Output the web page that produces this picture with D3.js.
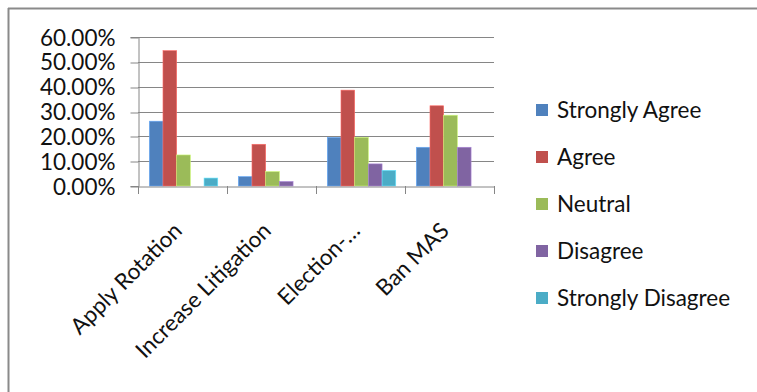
<!DOCTYPE html>
<html>
<head>
<meta charset="utf-8">
<script src="https://cdn.jsdelivr.net/npm/d3@7"></script>
<style>
  html, body { margin: 0; padding: 0; background: #fff; }
  svg { display: block; }
  text { font-family: Lato, "Open Sans", sans-serif; fill: #111; }
</style>
</head>
<body>
<svg id="chart" width="757" height="392"></svg>
<script>
// Survey responses per proposal (share of respondents)
const categories = ["Apply Rotation", "Increase Litigation", "Election-…", "Ban MAS"];
const seriesNames = ["Strongly Agree", "Agree", "Neutral", "Disagree", "Strongly Disagree"];
const stronglyAgree    = [0.261, 0.038, 0.196, 0.156];
const agree            = [0.545, 0.168, 0.386, 0.323];
const neutral          = [0.125, 0.058, 0.196, 0.285];
const disagree         = [0.000, 0.018, 0.089, 0.156];
const stronglyDisagree = [0.032, 0.000, 0.063, 0.000];
const seriesColors = ["#4F81BD", "#C0504D", "#9BBB59", "#8064A2", "#4BACC6"];
const yTicks = [0, 0.1, 0.2, 0.3, 0.4, 0.5, 0.6];

const seriesValues = [stronglyAgree, agree, neutral, disagree, stronglyDisagree];
const FONT_SIZE = 22.5;

const svg = d3.select("#chart");

// Outer chart frame (left and top edges)
svg.append("line").attr("x1", 8.5).attr("x2", 8.5).attr("y1", 8).attr("y2", 392)
  .attr("stroke", "#8a8a8a").attr("stroke-width", 2);
svg.append("line").attr("x1", 8).attr("x2", 757).attr("y1", 8.5).attr("y2", 8.5)
  .attr("stroke", "#8a8a8a").attr("stroke-width", 2);

const plot = { left: 138, right: 494, top: 37, bottom: 186 };

const x = d3.scaleBand().domain(categories).range([plot.left, plot.right]).paddingInner(0).paddingOuter(0);
const xs = d3.scaleBand().domain(seriesNames).range([0, x.bandwidth()])
  .paddingInner(0).paddingOuter(0.75).align(0.55);
const y = d3.scaleLinear().domain([0, 0.6]).range([plot.bottom, plot.top]);

// Horizontal gridlines
svg.append("g").selectAll("line").data(yTicks.filter(d => d > 0)).join("line")
  .attr("x1", plot.left).attr("x2", plot.right)
  .attr("y1", d => Math.round(y(d)) + 0.5).attr("y2", d => Math.round(y(d)) + 0.5)
  .attr("stroke", "#868686").attr("stroke-width", 1);

// Y axis
const yAxis = d3.axisLeft(y).tickValues(yTicks).tickSize(8).tickPadding(15)
  .tickFormat(d => (d * 100).toFixed(2) + "%");
const gy = svg.append("g").attr("transform", `translate(${plot.left + 0.5},0)`).call(yAxis);
gy.select(".domain").attr("stroke", "#868686");
gy.selectAll(".tick line").attr("stroke", "#868686")
  .attr("transform", function(d) { return `translate(0,${Math.round(y(d)) + 0.5 - y(d)})`; });
gy.selectAll(".tick text").attr("font-size", FONT_SIZE).attr("font-family", "Lato, sans-serif")
  .attr("fill", "#111").attr("dy", "0.36em");

// Bars
const groups = svg.append("g").selectAll("g").data(categories).join("g")
  .attr("transform", d => `translate(${x(d)},0)`);
groups.selectAll("rect")
  .data((c, ci) => seriesNames.map((s, si) => ({ s, si, v: seriesValues[si][ci] })))
  .join("rect")
  .filter(d => d.v > 0)
  .attr("x", d => xs(d.s))
  .attr("width", xs.bandwidth())
  .attr("y", d => y(d.v))
  .attr("height", d => y(0) - y(d.v))
  .attr("fill", d => seriesColors[d.si])
  .attr("stroke", d => d3.color(seriesColors[d.si]).brighter(0.8))
  .attr("stroke-width", 0.6);

// X axis
const xAxis = d3.axisBottom(x).tickSize(0).tickFormat("");
const gx = svg.append("g").attr("transform", `translate(0,${plot.bottom + 0.5})`).call(xAxis);
gx.select(".domain").attr("stroke", "#868686");
const boundaries = categories.map(c => x(c)).concat([plot.right]);
svg.append("g").selectAll("line").data(boundaries).join("line")
  .attr("x1", d => Math.round(d) + 0.5).attr("x2", d => Math.round(d) + 0.5)
  .attr("y1", plot.bottom).attr("y2", plot.bottom + 8)
  .attr("stroke", "#868686");

// Rotated category labels
svg.append("g").selectAll("text").data(categories).join("text")
  .attr("transform", d => `translate(${x(d) + x.bandwidth() / 2 + 1},${plot.bottom + 46}) rotate(-45)`)
  .attr("text-anchor", "end")
  .attr("font-size", FONT_SIZE)
  .text(d => d);

// Legend
const legend = svg.append("g").selectAll("g").data(seriesNames).join("g")
  .attr("transform", (d, i) => `translate(536,${110 + i * 47})`);
legend.append("rect").attr("x", 0).attr("y", -6).attr("width", 12).attr("height", 12)
  .attr("fill", (d, i) => seriesColors[i]);
legend.append("text").attr("x", 21).attr("y", 0).attr("dy", "0.36em")
  .attr("font-size", FONT_SIZE).text(d => d);
</script>
</body>
</html>
